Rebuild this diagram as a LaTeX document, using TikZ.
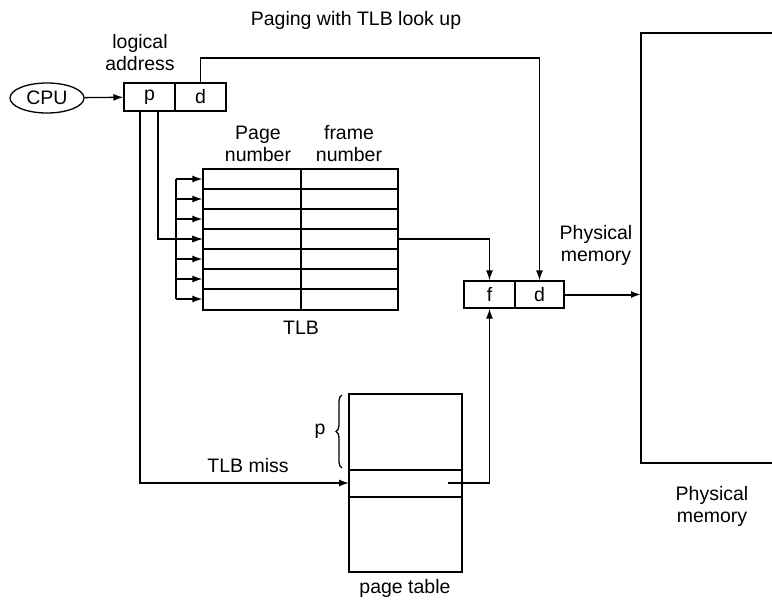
\documentclass[tikz,border=0pt]{standalone}
\usepackage{fontspec}
\setmainfont{Liberation Sans}
\usetikzlibrary{shapes.geometric,arrows.meta,decorations.pathreplacing,calc}
\begin{document}
\begin{tikzpicture}[x=1pt,y=-1pt,
  line width=1.3pt,
  txt/.style={font=\fontsize{19.5}{22}\selectfont, align=center, inner sep=0pt},
  cell/.style={draw, minimum height=27, inner sep=0pt, font=\fontsize{19.5}{22}\selectfont},
  arr/.style={-{Latex[length=10,width=7]}},
  bigarr/.style={-{Latex[length=10,width=7]}, line width=2pt}]
\useasboundingbox (0,0) rectangle (772,600);

% title and labels
\node[txt] (title) at (356,20) {Paging with TLB look up};
\node[txt] (lalabel) at (140,53) {logical\\address};

% CPU
\node[draw, ellipse, minimum width=74, minimum height=30, inner sep=0pt, txt] (cpu) at (47,98) {CPU};

% logical address box
\node[cell, minimum width=51, minimum height=28] (p) at (149.5,97) {p};
\node[cell, minimum width=51, minimum height=28] (d) at (200.5,97) {d};

% TLB
\node[draw, minimum width=195, minimum height=141, inner sep=0pt] (tlb) at (300.5,239.5) {};
\foreach \yy in {189,209,229,249,269,289} \draw (203,\yy) -- (399,\yy);
\draw (301,169) -- (301,310);
\node[txt] (pn) at (258,144) {Page\\number};
\node[txt] (fn) at (349,144) {frame\\number};
\node[txt] (tlblabel) at (301,328) {TLB};

% bus into TLB
\coordinate (btop) at (176,179);
\coordinate (bbot) at (176,299);
\draw (btop) -- (bbot);
\foreach \yy in {179,199,219,239,259,279,299} \draw[arr] (176,\yy) -- (tlb.west |- 0,\yy);

% f d box
\node[cell, minimum width=51] (f) at (489.5,294.5) {f};
\node[cell, minimum width=49] (d2) at (539.5,294.5) {d};
\node[txt] (pmlabel) at (596,245) {Physical\\memory};

% physical memory
\coordinate (memtl) at (641,33);
\coordinate (membl) at (641,463);
\coordinate (memin) at (641,294.5);
\draw (772,33) -- (memtl) -- (membl) -- (772,463);
\node[txt] (pm2) at (712,506) {Physical\\memory};

% page table
\node[draw, minimum width=113, minimum height=178, inner sep=0pt] (pt) at (405.5,483) {};
\draw (pt.west |- 0,470) -- (pt.east |- 0,470);
\draw (pt.west |- 0,497) -- (pt.east |- 0,497);
\coordinate (ptrow) at (349,483);
\coordinate (ptout) at (448,483);
\node[txt] (ptlabel) at (405,588) {page table};
\draw[decorate, decoration={brace, amplitude=6pt}] (342,468) -- (342,395);
\node[txt] (plabel) at (320,431) {p};
\node[txt] (miss) at (248,466) {TLB miss};

% connectors
\draw[arr] (cpu) -- (p);
\draw[arr] (d.north) -- (d.north |- 0,58) -| (d2.north);
\draw[arr] (p.south -| 158,0) |- (tlb.west |- 0,239);
\draw[arr] (p.south -| 140,0) |- (ptrow);
\draw[arr] (tlb.east |- 0,239) -| (f.north);
\draw[arr] (ptout) -| (f.south);
\draw[bigarr] (d2.east) -- (memin);
\end{tikzpicture}
\end{document}
